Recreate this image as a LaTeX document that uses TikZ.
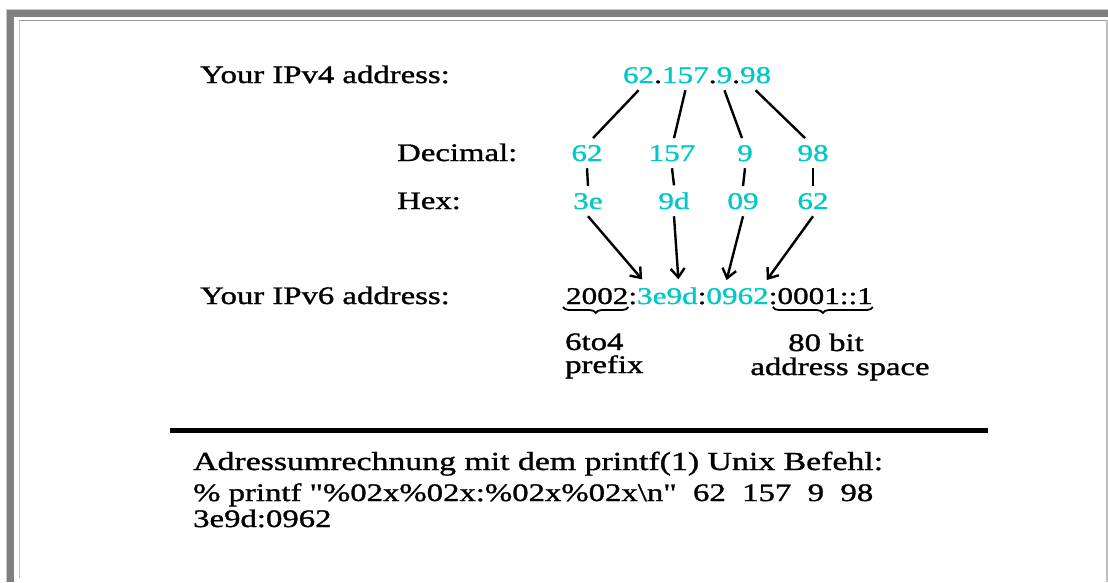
\documentclass[tikz,border=0pt]{standalone}
\usepackage{fontspec}
\setmainfont[FakeStretch=1.3,FakeBold=1.2,Ligatures=TeXOff]{Liberation Serif}
\usepackage{tikz}
\usetikzlibrary{calc,arrows.meta,decorations.pathreplacing}
\definecolor{ipcyan}{RGB}{0,200,200}
\tikzset{
	lbl/.style={anchor=base west, inner sep=0pt, font=\fontsize{25.2}{28}\selectfont},
	num/.style={anchor=base, inner sep=0pt, outer xsep=0pt, outer ysep=7pt, text=ipcyan, font=\fontsize{24}{26}\selectfont},
	v6/.style={anchor=base west, inner sep=0pt, outer xsep=0pt, outer ysep=8pt, font=\fontsize{24}{28}\selectfont},
	link/.style={line width=2.4pt},
	tip/.style={line width=2.4pt, -{Straight Barb[length=9pt,width=14pt]}},
	ubrace/.style={line width=1.8pt, decorate, decoration={brace, mirror, amplitude=6pt}}
}

\begin{document}
\begin{tikzpicture}[x=1pt, y=-1pt]
	%%%%% START %%%%%
	\useasboundingbox (0,0) rectangle (1108,582);
	
	% frame
	\fill[black!50] (7,10) rectangle (1108,17);
	\fill[black!50] (7,10) rectangle (14,582);
	\draw[line width=1pt, color=black!22] (6.5,582) -- (6.5,9.5) -- (1108,9.5);
	\draw[line width=1.5pt, color=black!40] (19,20.5) -- (1107,20.5);
	\draw[line width=1.5pt, color=black!22] (19.5,21) -- (19.5,578);
	\draw[line width=1.5pt, color=black!25] (1107,20) -- (1107,582);
	
	% labels
	\node[lbl] (ipv4) at (200,83) {Your IPv4 address:};
	\node[lbl] (dec) at (397,161) {Decimal:};
	\node[lbl] (hex) at (397,209) {Hex:};
	\node[lbl] (ipv6) at (200,304) {Your IPv6 address:};
	
	% IPv4 address
	\node[num, anchor=base west] (t62) at (623,83) {62};
	\node[num, anchor=base west, text=black] (td1) at (t62.base east) {.};
	\node[num, anchor=base west] (t157) at (td1.base east) {157};
	\node[num, anchor=base west, text=black] (td2) at (t157.base east) {.};
	\node[num, anchor=base west] (t9) at (td2.base east) {9};
	\node[num, anchor=base west, text=black] (td3) at (t9.base east) {.};
	\node[num, anchor=base west] (t98) at (td3.base east) {98};
	
	\node[num] (d62) at (587,161) {62};
	\node[num] (d157) at (672,161) {157};
	\node[num] (d9) at (745,161) {9};
	\node[num] (d98) at (813,161) {98};
	
	\node[num] (h3e) at (588,209) {3e};
	\node[num] (h9d) at (674,209) {9d};
	\node[num] (h09) at (743,209) {09};
	\node[num] (h62) at (813,209) {62};
	
	\draw[link] (t62.south) -- ($(d62.north)+(6,0)$);
	\draw[link] (t157.south) -- ($(d157.north)+(2,0)$);
	\draw[link] (t9.south) -- ($(d9.north)+(-3,0)$);
	\draw[link] (t98.south) -- ($(d98.north)+(-8,0)$);
	
	\draw[link] (d62.south) -- (h3e.north);
	\draw[link] (d157.south) -- (h9d.north);
	\draw[link] (d9.south) -- (h09.north);
	\draw[link] (d98.south) -- (h62.north);
	
	% IPv6 address
	\node[v6] (v2002) at (566,304) {2002};
	\node[v6] (vc1) at (v2002.base east) {:};
	\node[v6, text=ipcyan] (v3e9d) at (vc1.base east) {3e9d};
	\node[v6] (vc2) at (v3e9d.base east) {:};
	\node[v6, text=ipcyan] (v0962) at (vc2.base east) {0962};
	\node[v6] (vrest) at (v0962.base east) {:0001::1};
	
	\draw[tip] (h3e.south) -- ($(v3e9d.north west)+(5,0)$);
	\draw[tip] (h9d.south) -- ($(v3e9d.north)+(11,0)$);
	\draw[tip] (h09.south) -- ($(v0962.north)+(-11,0)$);
	\draw[tip] (h62.south) -- ($(v0962.north east)+(-2,0)$);
	
	\draw[ubrace] ($(v2002.base west)+(-3,3)$) -- ($(v2002.base east)+(0,3)$);
	\draw[ubrace] ($(vrest.base west)+(4,3)$) -- ($(vrest.base east)+(0,3)$);
	
	\node[lbl] (pfx1) at (565,350) {6to4};
	\node[lbl] (pfx2) at (565,373) {prefix};
	\node[lbl, anchor=base] (bits1) at (826,351) {80 bit};
	\node[lbl, anchor=base] (bits2) at (840,375) {address space};
	
	% printf
	\draw[line width=5pt] (170,430.5) -- (988,430.5);
	
	\node[lbl, font=\fontsize{26}{28}\selectfont] (cmdtitle) at (193,470) {Adressumrechnung mit dem printf(1) Unix Befehl:};
	\node[lbl] (cmdline) at (193,501) {\% printf "\%02x\%02x:\%02x\%02x\textbackslash n"\ \ 62\ \ 157\ \ 9\ \ 98};
	\node[lbl] (cmdout) at (193,527) {3e9d:0962};
	
	%%%%% END %%%%%
\end{tikzpicture}
\end{document}
